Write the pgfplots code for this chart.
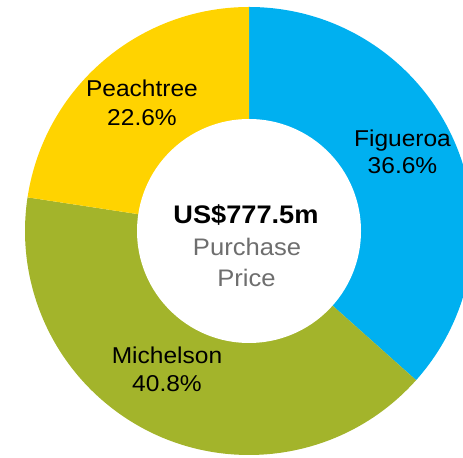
\documentclass[border=0pt]{standalone}
\usepackage{pgfplots}
\usepackage{pgfplotstable}
\pgfplotsset{compat=1.18}
\usepackage{fontspec}
\setmainfont{Liberation Sans}
\newfontfamily\labelfont[FakeStretch=1.07]{Liberation Sans}
\definecolor{figblue}{HTML}{00B0F0}
\definecolor{micolive}{HTML}{A3B42B}
\definecolor{peachyel}{HTML}{FFD300}
\definecolor{graytext}{HTML}{6E6E6E}
\pgfplotstableread{
name value color
Figueroa 36.6 figblue
Michelson 40.8 micolive
Peachtree 22.6 peachyel
}\piedata
\begin{document}
\begin{tikzpicture}
\begin{axis}[x=1bp,y=1bp,xmin=0,xmax=463,ymin=-458,ymax=0,hide axis,clip=true]
\addplot[draw=none] coordinates {(0,0) (463,-458)};
\pgfplotstablegetrowsof{\piedata}
\pgfmathtruncatemacro{\nrows}{\pgfplotsretval-1}
\def\cum{0}
\pgfplotsforeachungrouped \i in {0,...,\nrows}{%
  \pgfplotstablegetelem{\i}{value}\of\piedata \let\val\pgfplotsretval
  \pgfplotstablegetelem{\i}{color}\of\piedata \let\col\pgfplotsretval
  \pgfmathsetmacro{\a}{90-3.6*\cum}%
  \pgfmathsetmacro{\b}{90-3.6*(\cum+\val)}%
  \edef\temp{\noexpand\fill[\col] (axis cs:249,-231) -- ++(\a:224bp) arc[start angle=\a,end angle=\b,radius=224bp] -- cycle;}%
  \temp
  \pgfmathsetmacro{\cum}{\cum+\val}%
}
\fill[white] (axis cs:249,-231) circle[radius=112bp];
\node[anchor=base,font=\labelfont\fontsize{23}{27}\selectfont] at (axis cs:402.5,-147) {Figueroa};
\node[anchor=base,font=\labelfont\fontsize{23}{27}\selectfont] at (axis cs:402.5,-174) {36.6\%};
\node[anchor=base,font=\labelfont\fontsize{23}{27}\selectfont] at (axis cs:142,-97) {Peachtree};
\node[anchor=base,font=\labelfont\fontsize{23}{27}\selectfont] at (axis cs:142,-125.5) {22.6\%};
\node[anchor=base,font=\labelfont\fontsize{23}{27}\selectfont] at (axis cs:167,-364) {Michelson};
\node[anchor=base,font=\labelfont\fontsize{23}{27}\selectfont] at (axis cs:167,-392) {40.8\%};
\node[anchor=base,font=\labelfont\bfseries\fontsize{25.5}{30}\selectfont] at (axis cs:246,-224) {US\$777.5m};
\node[anchor=base,text=graytext,font=\labelfont\fontsize{24}{28}\selectfont] at (axis cs:247,-256) {Purchase};
\node[anchor=base,text=graytext,font=\labelfont\fontsize{24}{28}\selectfont] at (axis cs:246.5,-287) {Price};
\end{axis}
\pgfresetboundingbox
\path[use as bounding box] (current axis.south west) rectangle (current axis.north east);
\end{tikzpicture}
\end{document}
